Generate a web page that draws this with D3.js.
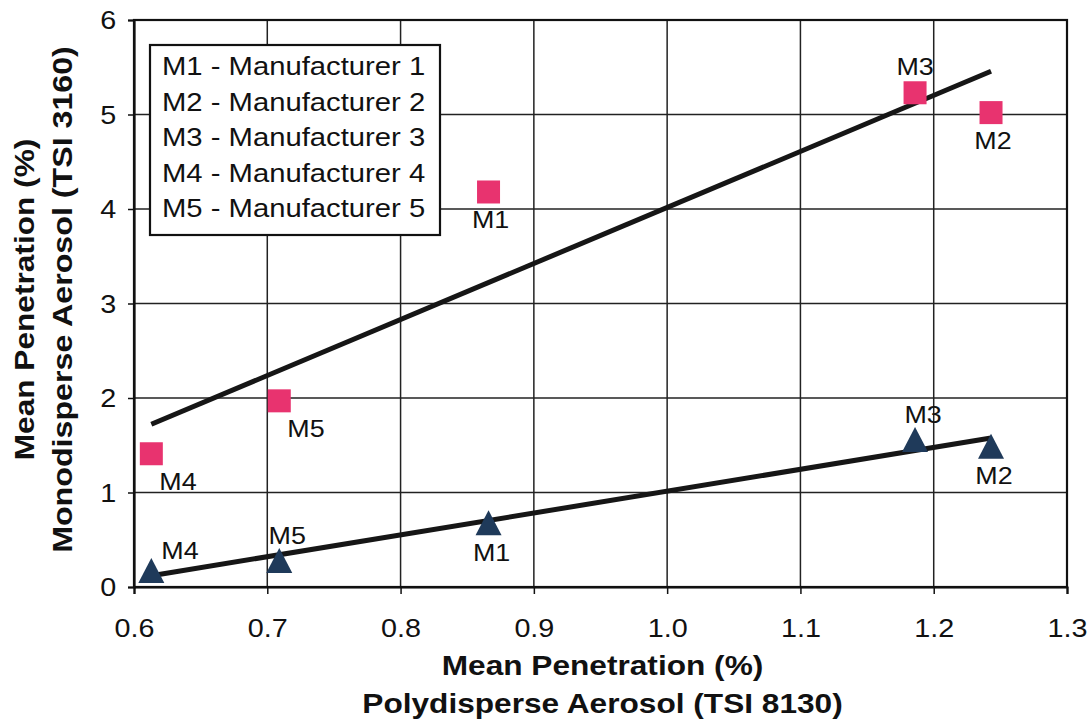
<!DOCTYPE html>
<html>
<head>
<meta charset="utf-8">
<script src="https://cdn.jsdelivr.net/npm/d3@7"></script>
<style>
    body { margin: 0; background: #fff; }
    svg { display: block; font-family: "Liberation Sans", Arial, sans-serif; }
</style>
</head>
<body>
<svg id="chart"></svg>
<script>
// values
const manufacturers = ["M1", "M2", "M3", "M4", "M5"];
const legendNames = ["Manufacturer 1", "Manufacturer 2", "Manufacturer 3", "Manufacturer 4", "Manufacturer 5"];
const polydisperse = [0.866, 1.243, 1.186, 0.613, 0.709];   // x, TSI 8130
const monoSquares = [4.18, 5.02, 5.23, 1.41, 1.97];          // pink squares
const monoTriangles = [0.68, 1.49, 1.56, 0.175, 0.28];       // navy triangles
const squareLabelPos = ["below", "below", "above", "belowRight", "belowRight"];
const triangleLabelPos = ["below", "below", "above", "aboveRight", "above"];
const xTicks = [0.6, 0.7, 0.8, 0.9, 1.0, 1.1, 1.2, 1.3];
const yTicks = [0, 1, 2, 3, 4, 5, 6];

const width = 1092;
const height = 719;
const plot = { left: 134, right: 1067, top: 20, bottom: 587 };

const svg = d3.select("#chart").attr("width", width).attr("height", height);

const x = d3.scaleLinear().domain([0.6, 1.3]).range([plot.left, plot.right]);
const y = d3.scaleLinear().domain([0, 6]).range([plot.bottom, plot.top]);

// text in the original is a bit wider than Arial, so stretch it horizontally
function stretchedText(parent, px, py, str, opts) {
    return parent
        .append("text")
        .attr("transform", `translate(${px},${py}) rotate(${opts.rotate || 0}) scale(${opts.sx || 1.15},1)`)
        .attr("text-anchor", opts.anchor || "middle")
        .attr("font-size", opts.size || 25)
        .attr("font-weight", opts.weight || "normal")
        .attr("fill", "#111")
        .text(str);
}

// gridlines
const grid = svg.append("g").attr("stroke", "#222").attr("stroke-width", 1.5);
grid.selectAll("line.v")
    .data(xTicks.slice(1, -1))
    .enter()
    .append("line")
    .attr("x1", (d) => x(d))
    .attr("x2", (d) => x(d))
    .attr("y1", plot.top)
    .attr("y2", plot.bottom);
grid.selectAll("line.h")
    .data(yTicks.slice(1, -1))
    .enter()
    .append("line")
    .attr("x1", plot.left)
    .attr("x2", plot.right)
    .attr("y1", (d) => y(d))
    .attr("y2", (d) => y(d));

// plot frame
svg.append("rect")
    .attr("x", plot.left)
    .attr("y", plot.top)
    .attr("width", plot.right - plot.left)
    .attr("height", plot.bottom - plot.top)
    .attr("fill", "none")
    .attr("stroke", "#111")
    .attr("stroke-width", 2.2);

// axes
const xAxis = svg
    .append("g")
    .attr("transform", `translate(0,${plot.bottom})`)
    .call(d3.axisBottom(x).tickValues(xTicks).tickFormat(d3.format(".1f")).tickSize(7).tickPadding(0));
const yAxis = svg
    .append("g")
    .attr("transform", `translate(${plot.left},0)`)
    .call(d3.axisLeft(y).tickValues(yTicks).tickFormat(d3.format("d")).tickSize(6));

[xAxis, yAxis].forEach((ax) => {
    ax.select(".domain").attr("stroke", "#111").attr("stroke-width", 2.2);
    ax.selectAll(".tick line").attr("stroke", "#111").attr("stroke-width", 1.5);
    ax.selectAll(".tick text")
        .attr("font-family", "Liberation Sans, Arial, sans-serif")
        .attr("font-size", 25)
        .attr("fill", "#111");
});
xAxis.selectAll(".tick text").attr("dy", null).attr("y", 50).attr("transform", "scale(1.15,1)");
yAxis.selectAll(".tick text").attr("x", -15.5).attr("dy", "0.35em").attr("transform", "scale(1.15,1)");

// trendlines (least squares through each series)
function fitLine(xs, ys) {
    const mx = d3.mean(xs);
    const my = d3.mean(ys);
    const sxy = d3.sum(xs, (v, i) => (v - mx) * (ys[i] - my));
    const sxx = d3.sum(xs, (v) => (v - mx) * (v - mx));
    const slope = sxy / sxx;
    const ext = d3.extent(xs);
    return ext.map((v) => [v, my + slope * (v - mx)]);
}

const line = d3.line().x((d) => x(d[0])).y((d) => y(d[1]));
[monoSquares, monoTriangles].forEach((series) => {
    svg.append("path")
        .attr("d", line(fitLine(polydisperse, series)))
        .attr("fill", "none")
        .attr("stroke", "#161616")
        .attr("stroke-width", 5);
});

// markers
const squareSize = 23;
svg.append("g")
    .selectAll("rect")
    .data(manufacturers)
    .enter()
    .append("rect")
    .attr("x", (d, i) => x(polydisperse[i]) - squareSize / 2)
    .attr("y", (d, i) => y(monoSquares[i]) - squareSize / 2)
    .attr("width", squareSize)
    .attr("height", squareSize)
    .attr("fill", "#e8336f");

const triW = 26;
const triH = 25;
svg.append("g")
    .selectAll("path")
    .data(manufacturers)
    .enter()
    .append("path")
    .attr("d", `M0,${-triH / 2}L${triW / 2},${triH / 2}L${-triW / 2},${triH / 2}Z`)
    .attr("transform", (d, i) => `translate(${x(polydisperse[i])},${y(monoTriangles[i])})`)
    .attr("fill", "#1f3a5a");

// point labels
const squareOffsets = {
    below: [2, 36, "middle"],
    above: [0, -18, "middle"],
    belowRight: [8, 36, "start"],
};
const triangleOffsets = {
    below: [3, 38, "middle"],
    above: [8, -17, "middle"],
    aboveRight: [10, -11, "start"],
};
const labels = svg.append("g");
manufacturers.forEach((m, i) => {
    const so = squareOffsets[squareLabelPos[i]];
    stretchedText(labels, x(polydisperse[i]) + so[0], y(monoSquares[i]) + so[1], m, {
        anchor: so[2],
        size: 24,
        sx: 1.12,
    });
    const to = triangleOffsets[triangleLabelPos[i]];
    stretchedText(labels, x(polydisperse[i]) + to[0], y(monoTriangles[i]) + to[1], m, {
        anchor: to[2],
        size: 24,
        sx: 1.12,
    });
});

// legend box
const legend = svg.append("g");
legend.append("rect")
    .attr("x", 150)
    .attr("y", 45)
    .attr("width", 290)
    .attr("height", 190)
    .attr("fill", "#fff")
    .attr("stroke", "#111")
    .attr("stroke-width", 2.2);
manufacturers.forEach((m, i) => {
    stretchedText(legend, 162, 75 + i * 35.5, `${m} - ${legendNames[i]}`, {
        anchor: "start",
        size: 25,
        sx: 1.17,
    });
});

// axis titles
const midX = (plot.left + plot.right) / 2;
const midY = (plot.top + plot.bottom) / 2;
stretchedText(svg, midX + 2, 675, "Mean Penetration (%)", { size: 28, weight: "bold", sx: 1.13 });
stretchedText(svg, midX + 2, 713, "Polydisperse Aerosol (TSI 8130)", { size: 28, weight: "bold", sx: 1.13 });
stretchedText(svg, 34, midY - 4, "Mean Penetration (%)", { size: 28, weight: "bold", sx: 1.13, rotate: -90 });
stretchedText(svg, 72, midY - 4, "Monodisperse Aerosol (TSI 3160)", { size: 28, weight: "bold", sx: 1.15, rotate: -90 });
</script>
</body>
</html>
